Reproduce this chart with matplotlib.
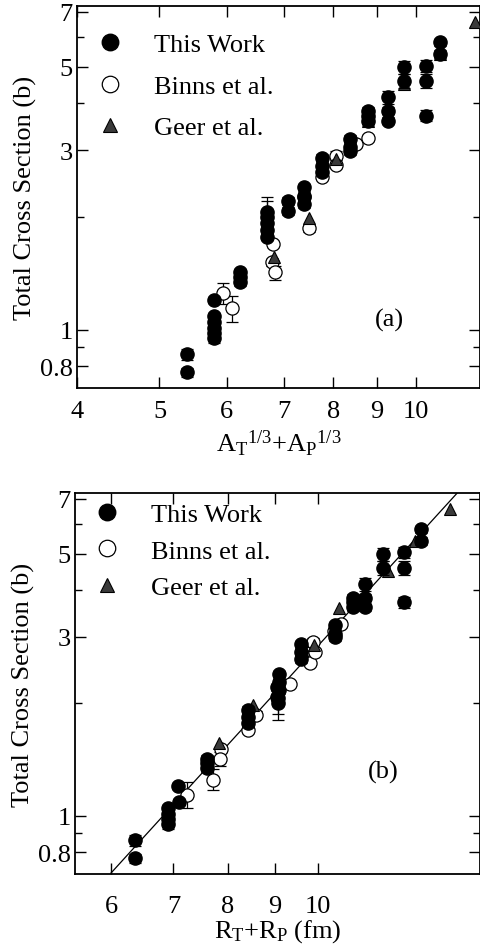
import numpy as np
import matplotlib
matplotlib.use("Agg")
import matplotlib.pyplot as plt
from matplotlib.ticker import FixedLocator, NullFormatter, FixedFormatter

plt.rcParams["font.family"] = ["Liberation Serif", "DejaVu Serif"]
plt.rcParams["mathtext.fontset"] = "custom"
plt.rcParams["mathtext.rm"] = "Liberation Serif"
plt.rcParams["mathtext.it"] = "Liberation Serif:italic"

# ---- measured total cross sections (barn) ----
# This work: x in A_T^1/3 + A_P^1/3, x in R_T + R_P (fm), sigma, error
work_xa = [5.38, 5.38,
           5.80, 5.80, 5.80, 5.80, 5.80, 5.80,
           6.22, 6.22, 6.22,
           6.69, 6.69, 6.69, 6.69, 6.69,
           7.08, 7.08,
           7.39, 7.39, 7.39,
           7.77, 7.77, 7.77,
           8.37, 8.37, 8.37,
           8.79, 8.79, 8.79,
           9.28, 9.28, 9.28,
           9.70, 9.70,
           10.29, 10.29, 10.29,
           10.69, 10.69]
work_xb = [6.37, 6.37,
           7.08, 7.10, 6.90, 6.90, 6.90, 6.90,
           7.60, 7.60, 7.60,
           9.07, 9.07, 8.42, 8.42, 8.42,
           9.05, 9.05,
           9.08, 9.08, 9.08,
           9.60, 9.60, 9.60,
           10.43, 10.43, 10.43,
           10.91, 10.91, 10.91,
           11.23, 11.23, 11.23,
           11.75, 11.75,
           12.37, 12.37, 12.37,
           12.89, 12.89]
work_y = [0.86, 0.77,
          1.20, 1.09, 1.05, 1.01, 0.98, 0.95,
          1.42, 1.38, 1.34,
          2.06, 2.00, 1.92, 1.84, 1.77,
          2.20, 2.07,
          2.39, 2.27, 2.16,
          2.87, 2.73, 2.62,
          3.22, 3.06, 2.99,
          3.82, 3.71, 3.60,
          4.15, 3.82, 3.60,
          4.99, 4.59,
          5.04, 4.59, 3.71,
          5.81, 5.41]
work_err = [0.03, 0.02,
            0.02, 0.02, 0.02, 0.02, 0.02, 0.03,
            0.03, 0.03, 0.03,
            0.19, 0.20, 0.04, 0.04, 0.04,
            0.05, 0.05,
            0.05, 0.05, 0.05,
            0.06, 0.06, 0.06,
            0.07, 0.07, 0.07,
            0.08, 0.08, 0.08,
            0.17, 0.08, 0.08,
            0.20, 0.20,
            0.18, 0.20, 0.12,
            0.12, 0.12]

# Binns et al.
binns_xa = [5.94, 6.09, 6.80, 6.77, 6.83, 7.39, 7.49, 7.77, 8.07, 8.07, 8.52, 8.79]
binns_xb = [7.72, 7.23, 8.42, 7.88, 7.85, 9.33, 8.59, 9.80, 9.88, 9.93, 10.40, 10.58]
binns_y = [1.25, 1.14, 1.69, 1.51, 1.42, 2.25, 1.86, 2.55, 2.90, 2.74, 3.12, 3.24]
binns_err = [0.08, 0.09, 0.03, 0.03, 0.06, 0.03, 0.04, 0.03, 0.08, 0.05, 0.05, 0.06]

# Geer et al.
geer_xa = [6.82, 7.49, 8.07, 8.79, 9.70, 10.69, 11.73]
geer_xb = [7.83, 8.52, 9.91, 10.54, 11.90, 12.71, 13.86]
geer_y = [1.56, 1.98, 2.85, 3.58, 4.50, 5.40, 6.58]

# power-law systematics sigma = S0 * (R / R0)^P drawn in panel (b)
fit_R0 = 6.0
fit_S0 = 0.704
fit_P = 2.73

x_ticks_a = [4, 5, 6, 7, 8, 9, 10]
x_ticks_b = [6, 7, 8, 9, 10]
y_ticks = [0.8, 1, 3, 5, 7]
y_minor = [0.9, 2, 4, 6]

FS = 19
W, H = 481, 953
fig = plt.figure(figsize=(W / 100, H / 100), dpi=100)

ax_a = fig.add_axes([77 / W, 1 - 389 / H, (480 - 77) / W, (389 - 7) / H])
ax_b = fig.add_axes([75 / W, 1 - 875 / H, (480 - 75) / W, (875 - 494) / H])

ERR = dict(fmt="none", ecolor="black", elinewidth=0.9, capsize=4, capthick=0.9)


def draw(ax, wx, bx, gx):
    ax.set_xscale("log")
    ax.set_yscale("log")
    ax.errorbar(bx, binns_y, yerr=binns_err, zorder=2, **ERR)
    hb, = ax.plot(bx, binns_y, "o", ms=9.5, mfc="white", mec="black",
                  mew=0.9, zorder=2, linestyle="none")
    hg, = ax.plot(gx, geer_y, "^", ms=8, mfc="#3a3a3a", mec="black", mew=0.8,
                  zorder=3, linestyle="none")
    ax.errorbar(wx, work_y, yerr=work_err, zorder=4, **ERR)
    hw, = ax.plot(wx, work_y, "o", ms=9.5, mfc="black", mec="black",
                  zorder=4, linestyle="none")
    for s in ax.spines.values():
        s.set_linewidth(1.3)
    ax.yaxis.set_major_locator(FixedLocator(y_ticks))
    ax.yaxis.set_major_formatter(FixedFormatter([str(v) for v in y_ticks]))
    ax.yaxis.set_minor_locator(FixedLocator(y_minor))
    ax.yaxis.set_minor_formatter(NullFormatter())
    ax.xaxis.set_minor_locator(FixedLocator([]))
    ax.xaxis.set_minor_formatter(NullFormatter())
    ax.tick_params(which="both", direction="in", top=True, right=True,
                   labelsize=FS, width=1.0)
    ax.tick_params(which="major", length=8)
    ax.tick_params(which="minor", length=5)
    ax.tick_params(axis="y", pad=3)
    ax.set_ylim(0.70, 7.26)
    ax.set_ylabel("Total Cross Section (b)", fontsize=FS, labelpad=2)
    return [hw, hb, hg], ["This Work", "Binns et al.", "Geer et al."]


h, l = draw(ax_a, work_xa, binns_xa, geer_xa)
ax_a.set_xlim(4, 11.9)
ax_a.xaxis.set_major_locator(FixedLocator(x_ticks_a))
ax_a.xaxis.set_major_formatter(FixedFormatter([str(v) for v in x_ticks_a]))
ax_a.tick_params(axis="x", pad=9)
ax_a.set_xlabel(r"${\rm A_T}^{1/3}{\rm {+}A_P}^{1/3}$", fontsize=FS, labelpad=4)
ax_a.text(0.775, 0.18, "(a)", transform=ax_a.transAxes, fontsize=FS,
          ha="center", va="center")
ax_a.legend(h, l, loc="upper left", bbox_to_anchor=(-0.027, 1.0), frameon=False,
            fontsize=FS, markerscale=1.25, handletextpad=1.0, labelspacing=0.68,
            borderaxespad=0.62, handlelength=1.3)

h, l = draw(ax_b, work_xb, binns_xb, geer_xb)
ax_b.set_xlim(5.49, 14.92)
fit_x = np.geomspace(fit_R0, 15.0, 50)
ax_b.plot(fit_x, fit_S0 * (fit_x / fit_R0) ** fit_P, color="black", lw=0.9,
          zorder=1)
ax_b.xaxis.set_major_locator(FixedLocator(x_ticks_b))
ax_b.xaxis.set_major_formatter(FixedFormatter([str(v) for v in x_ticks_b]))
ax_b.tick_params(axis="x", pad=15)
ax_b.set_xlabel(r"${\rm R_T{+}R_P}$ (fm)", fontsize=FS, labelpad=0)
ax_b.text(0.760, 0.27, "(b)", transform=ax_b.transAxes, fontsize=FS,
          ha="center", va="center")
ax_b.legend(h, l, loc="upper left", bbox_to_anchor=(0.005, 1.01), frameon=False,
            fontsize=FS, markerscale=1.25, handletextpad=1.0, labelspacing=0.5,
            borderaxespad=0.1, handlelength=1.3)

fig.savefig("out.png", dpi=100)
